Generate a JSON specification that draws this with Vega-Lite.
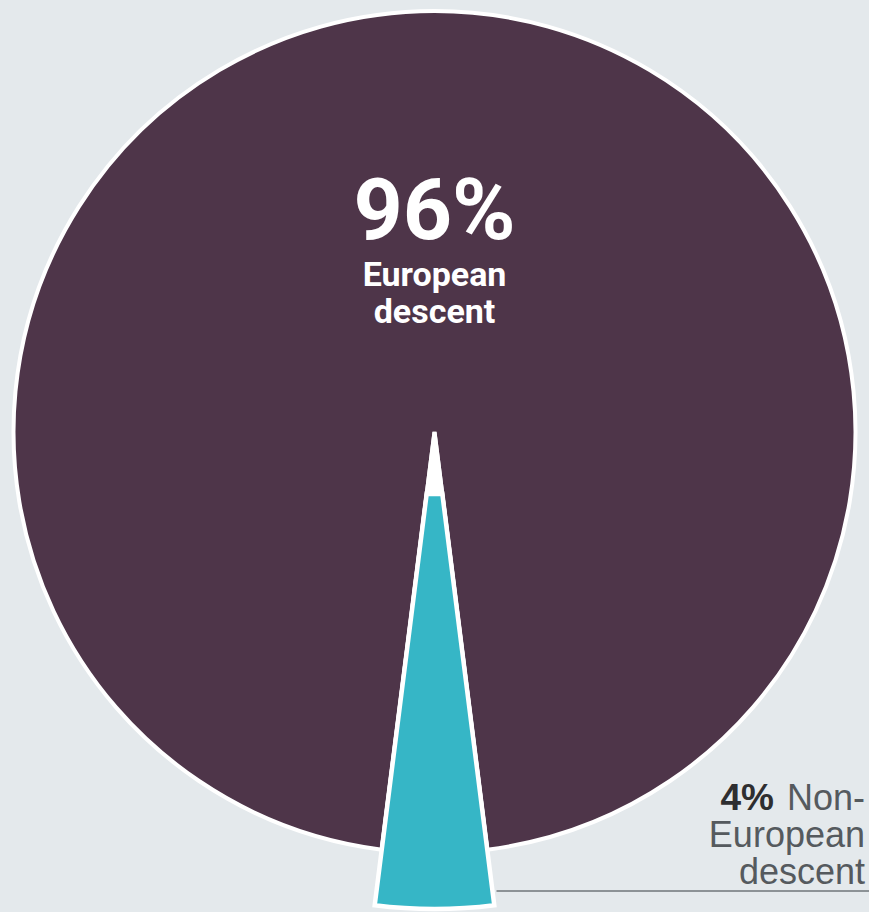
{
  "$schema": "https://vega.github.io/schema/vega-lite/v6.json",
  "width": 869,
  "height": 864,
  "autosize": {"type": "none"},
  "padding": {"left": 0, "right": 0, "top": 0, "bottom": 48},
  "background": "#e4e9ec",
  "config": {"view": {"stroke": null}},
  "data": {
    "values": [
      {"group": "European descent", "share": 96, "pct": "96%", "note": ["European", "descent"]},
      {"group": "Non-European descent", "share": 4, "pct": "4%", "note": ["Non-", "European", "descent"]}
    ]
  },
  "layer": [
    {
      "encoding": {
        "theta": {"field": "share", "type": "quantitative", "stack": true, "scale": {"range": [-3.01593, 3.26726]}},
        "detail": {"field": "group"},
        "order": {"field": "share", "sort": "descending"}
      },
      "layer": [
        {
          "mark": {"type": "arc", "radius": 421, "stroke": "#ffffff", "strokeWidth": 4},
          "encoding": {
            "color": {"condition": {"test": "datum.group === 'Non-European descent'", "value": "#ffffff"}, "value": "#4e3549"}
          }
        },
        {
          "mark": {"type": "arc", "radius": 477, "radius2": 62, "stroke": "#ffffff", "strokeWidth": 4.5, "color": "#36b6c6"},
          "encoding": {
            "opacity": {"condition": {"test": "datum.group === 'Non-European descent'", "value": 1}, "value": 0}
          }
        },
        {
          "mark": {"type": "text", "radius": 193, "font": "Roboto, sans-serif", "fontWeight": "bold", "fontSize": 86, "baseline": "alphabetic", "align": "center", "color": "#ffffff"},
          "encoding": {
            "text": {"field": "pct"},
            "opacity": {"condition": {"test": "datum.group === 'European descent'", "value": 1}, "value": 0}
          }
        },
        {
          "mark": {"type": "text", "radius": 146, "font": "Roboto, sans-serif", "fontWeight": "bold", "fontSize": 34, "lineHeight": 37, "baseline": "alphabetic", "align": "center", "color": "#ffffff"},
          "encoding": {
            "text": {"field": "note"},
            "opacity": {"condition": {"test": "datum.group === 'European descent'", "value": 1}, "value": 0}
          }
        }
      ]
    },
    {
      "transform": [{"filter": "datum.group === 'Non-European descent'"}],
      "mark": {"type": "text", "x": {"expr": "width - 4"}, "y": {"expr": "height - 54"}, "align": "right", "baseline": "alphabetic", "font": "Liberation Sans", "fontSize": 36, "lineHeight": 37, "color": "#555a5e"},
      "encoding": {"text": {"field": "note"}}
    },
    {
      "transform": [{"filter": "datum.group === 'Non-European descent'"}],
      "mark": {"type": "text", "x": {"expr": "width - 95"}, "y": {"expr": "height - 54"}, "align": "right", "baseline": "alphabetic", "font": "Liberation Sans", "fontWeight": "bold", "fontSize": 37, "color": "#2e2e30"},
      "encoding": {"text": {"field": "pct"}}
    },
    {
      "transform": [{"filter": "datum.group === 'Non-European descent'"}],
      "mark": {"type": "rule", "stroke": "#8c9296", "strokeWidth": 2},
      "encoding": {
        "x": {"value": {"expr": "width / 2 + 62"}},
        "x2": {"value": {"expr": "width"}},
        "y": {"value": {"expr": "height + 27"}}
      }
    }
  ]
}
